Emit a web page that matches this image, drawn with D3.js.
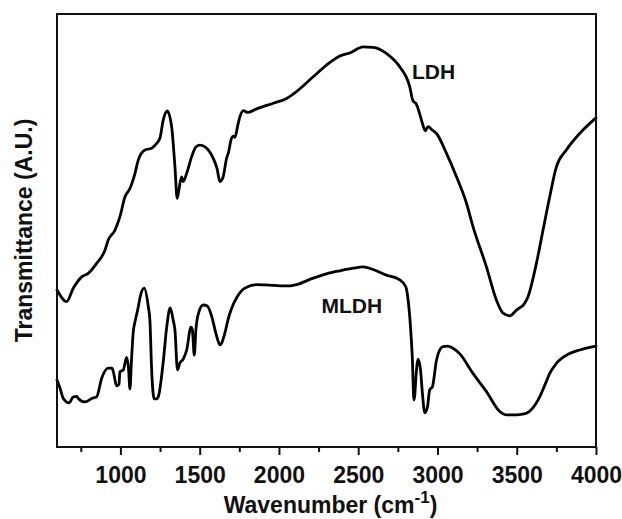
<!DOCTYPE html>
<html>
<head>
<meta charset="utf-8">
<script src="https://cdn.jsdelivr.net/npm/d3@7"></script>
<style>
  html, body { margin: 0; padding: 0; background: #fff; }
  svg { display: block; }
  text { font-family: "Liberation Sans", Arial, sans-serif; font-weight: bold; fill: #111; }
</style>
</head>
<body>
<svg id="chart" width="622" height="519"></svg>
<script>
// FTIR spectra: [wavenumber (cm-1), transmittance (arbitrary units)]
const ldhSpectrum = [
  [600,36.3],[661,33.6],[703,36.7],[756,39.3],[797,40.1],[850,42.4],[903,45.5],[923,47.8],
  [966,50.1],[997,53.2],[1029,57.8],[1060,59.7],[1092,63.2],[1113,66.3],[1155,68.6],[1197,69.0],
  [1218,69.7],[1249,71.3],[1270,75.5],[1295,77.6],[1323,74.0],[1344,64.7],[1358,57.4],[1369,59.4],
  [1386,62.4],[1396,61.3],[1418,63.2],[1449,67.0],[1476,69.3],[1501,69.7],[1533,69.3],[1554,68.6],
  [1585,66.7],[1609,64.4],[1628,61.3],[1648,62.4],[1670,66.7],[1680,67.8],[1701,71.3],[1713,71.8],
  [1722,71.5],[1741,74.4],[1754,76.3],[1776,77.7],[1791,77.4],[1806,77.3],[1859,78.1],[1964,79.4],
  [2048,80.5],[2111,82.1],[2216,85.5],[2300,88.2],[2384,90.3],[2447,91.0],[2531,92.4],[2594,92.3],
  [2678,90.9],[2762,87.8],[2825,83.2],[2844,80.1],[2851,79.7],[2863,79.4],[2871,78.8],[2899,75.5],
  [2914,73.7],[2923,73.0],[2941,74.0],[2964,73.3],[2994,72.4],[3057,67.8],[3120,62.4],[3183,56.3],
  [3224,50.9],[3309,41.6],[3372,33.9],[3414,30.9],[3456,30.3],[3498,31.6],[3550,33.2],[3571,34.7],
  [3624,42.4],[3666,50.1],[3708,57.8],[3750,64.7],[3813,68.6],[3897,72.4],[4000,76.0]
];

const mldhSpectrum = [
  [600,15.5],[619,13.6],[640,11.2],[676,10.2],[703,11.6],[726,11.7],[734,11.2],[777,10.4],
  [819,11.2],[850,11.6],[882,15.9],[923,18.2],[947,18.2],[956,17.3],[976,14.1],[991,14.5],
  [997,17.4],[1018,17.8],[1039,20.7],[1051,18.2],[1060,13.4],[1070,20.1],[1081,26.6],[1092,28.9],
  [1113,32.4],[1123,34.4],[1150,36.7],[1176,32.4],[1186,29.3],[1197,17.8],[1213,11.1],[1227,11.1],
  [1239,11.6],[1270,19.6],[1292,27.7],[1314,32.1],[1333,29.3],[1344,27.0],[1360,17.8],[1375,19.4],
  [1396,20.3],[1418,22.4],[1445,27.7],[1454,27.0],[1466,21.2],[1476,27.0],[1491,30.7],[1522,32.8],
  [1546,32.6],[1575,30.3],[1602,26.3],[1628,23.6],[1659,26.3],[1678,29.3],[1701,32.0],[1735,34.6],
  [1785,36.7],[1859,37.5],[1943,37.4],[2006,37.2],[2069,37.2],[2111,37.5],[2216,39.0],[2300,40.0],
  [2384,40.7],[2468,41.3],[2531,41.6],[2594,41.0],[2678,39.7],[2762,38.6],[2800,37.0],[2815,33.9],
  [2830,27.7],[2842,20.1],[2851,10.9],[2857,12.0],[2863,15.5],[2878,20.3],[2893,17.8],[2905,12.4],
  [2920,7.9],[2937,9.3],[2951,13.2],[2968,13.9],[2994,20.1],[3014,22.4],[3035,23.2],[3065,23.3],
  [3098,22.8],[3141,21.5],[3224,17.0],[3309,12.8],[3393,8.2],[3437,7.4],[3477,7.4],[3519,7.5],
  [3561,7.8],[3601,9.0],[3645,11.6],[3683,14.8],[3708,17.0],[3750,19.3],[3834,21.6],[3897,22.4],
  [4000,23.3]
];

const xDomain = [600, 4000];
const majorTicks = [1000, 1500, 2000, 2500, 3000, 3500, 4000];
const minorTicks = [750, 1250, 1750, 2250, 2750, 3250, 3750];
const seriesLabels = [
  { name: "LDH", at: [2975, 85] },
  { name: "MLDH", at: [2460, 31] }
];

const svg = d3.select("#chart");
const margin = { left: 57, right: 26, top: 14, bottom: 72 };
const W = 622, H = 519;

const x = d3.scaleLinear().domain(xDomain).range([margin.left, W - margin.right]);
const y = d3.scaleLinear().domain([0, 100]).range([H - margin.bottom, margin.top]);

const line = d3.line()
  .x(d => x(d[0]))
  .y(d => y(d[1]))
  .curve(d3.curveMonotoneX);

// spectra
[ldhSpectrum, mldhSpectrum].forEach(s => {
  svg.append("path")
    .datum(s)
    .attr("d", line)
    .attr("fill", "none")
    .attr("stroke", "#000")
    .attr("stroke-width", 2.8)
    .attr("stroke-linejoin", "round")
    .attr("stroke-linecap", "round");
});

// frame
svg.append("rect")
  .attr("x", x(xDomain[0])).attr("y", y(100))
  .attr("width", x(xDomain[1]) - x(xDomain[0]))
  .attr("height", y(0) - y(100))
  .attr("fill", "none").attr("stroke", "#111").attr("stroke-width", 2);

// bottom axis: major ticks with labels, unlabelled minor ticks
const xAxis = svg.append("g")
  .attr("transform", `translate(0,${y(0)})`)
  .call(d3.axisBottom(x).tickValues(majorTicks).tickSize(8).tickSizeOuter(0).tickPadding(12).tickFormat(d3.format("d")));
xAxis.select(".domain").remove();
xAxis.selectAll(".tick line").attr("stroke", "#111").attr("stroke-width", 2);
xAxis.selectAll(".tick text")
  .attr("fill", "#111")
  .style("font-size", "23px")
  .style("font-weight", "bold")
  .style("font-family", "'Liberation Sans', Arial, sans-serif");

const xMinor = svg.append("g")
  .attr("transform", `translate(0,${y(0)})`)
  .call(d3.axisBottom(x).tickValues(minorTicks).tickSize(5).tickSizeOuter(0).tickFormat(""));
xMinor.select(".domain").remove();
xMinor.selectAll(".tick line").attr("stroke", "#111").attr("stroke-width", 2);

// axis titles
const xTitle = svg.append("text")
  .attr("x", (x(xDomain[0]) + x(xDomain[1])) / 2 + 4)
  .attr("y", 513)
  .attr("text-anchor", "middle")
  .style("font-size", "23px");
xTitle.append("tspan").text("Wavenumber (cm");
xTitle.append("tspan").attr("dy", -10).style("font-size", "17px").text("-1");
xTitle.append("tspan").attr("dy", 10).text(")");

svg.append("text")
  .attr("transform", `translate(32,${(y(0) + y(100)) / 2}) rotate(-90)`)
  .attr("text-anchor", "middle")
  .style("font-size", "23px")
  .text("Transmittance (A.U.)");

// series labels
seriesLabels.forEach(l => {
  svg.append("text")
    .attr("x", x(l.at[0]))
    .attr("y", y(l.at[1]))
    .attr("text-anchor", "middle")
    .style("font-size", "21px")
    .text(l.name);
});
</script>
</body>
</html>
